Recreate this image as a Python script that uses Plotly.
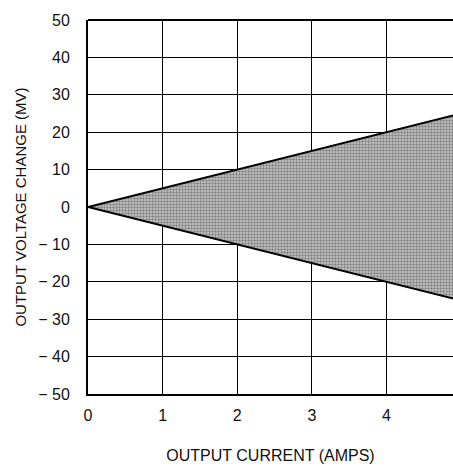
import plotly.graph_objects as go

current = [0, 5]
upper_mv = [0, 25]
lower_mv = [0, -25]
x_ticks = [0, 1, 2, 3, 4]
y_ticks = [50, 40, 30, 20, 10, 0, -10, -20, -30, -40, -50]
y_labels = ["50", "40", "30", "20", "10", "0", "\u2212 10", "\u2212 20", "\u2212 30", "\u2212 40", "\u2212 50"]

FONT = "Liberation Sans, Arial, sans-serif"

fig = go.Figure()
fig.add_trace(go.Scatter(x=current, y=lower_mv, mode="lines",
                         line=dict(color="black", width=2), showlegend=False))
fig.add_trace(go.Scatter(x=current, y=upper_mv, mode="lines", fill="tonexty",
                         fillcolor="rgb(170,170,170)",
                         fillpattern=dict(shape=".", fgcolor="rgb(60,60,60)", bgcolor="rgb(200,200,200)",
                                          size=3, solidity=0.5),
                         line=dict(color="black", width=2), showlegend=False))

fig.update_layout(
    width=453, height=466,
    margin=dict(l=88, r=0, t=20, b=72),
    paper_bgcolor="white", plot_bgcolor="white",
    font=dict(family=FONT, size=16, color="#111"),
    xaxis=dict(range=[0, 4.89], tickvals=x_ticks, ticktext=[str(v) for v in x_ticks],
               showgrid=True, gridcolor="black", gridwidth=1.3, zeroline=False,
               showline=True, linecolor="black", linewidth=2, mirror=False,
               ticks="", ticklen=0, tickfont=dict(size=16), ticklabelstandoff=6,
               title=dict(text="OUTPUT CURRENT (AMPS)", font=dict(size=16), standoff=27)),
    yaxis=dict(range=[-50, 50], tickvals=y_ticks, ticktext=y_labels,
               showgrid=True, gridcolor="black", gridwidth=1.3, zeroline=False,
               showline=True, linecolor="black", linewidth=2, mirror=False,
               ticks="", ticklen=0, tickfont=dict(size=16), ticklabelstandoff=13,
               title=dict(text="OUTPUT VOLTAGE CHANGE (MV)", font=dict(size=15), standoff=8)),
)
fig.add_shape(type="line", xref="paper", yref="paper", x0=0, x1=1, y0=1, y1=1,
              line=dict(color="black", width=2), layer="above")

fig.write_html("out.html", config={"displayModeBar": False},
               post_script="document.body.style.margin='0px';")
